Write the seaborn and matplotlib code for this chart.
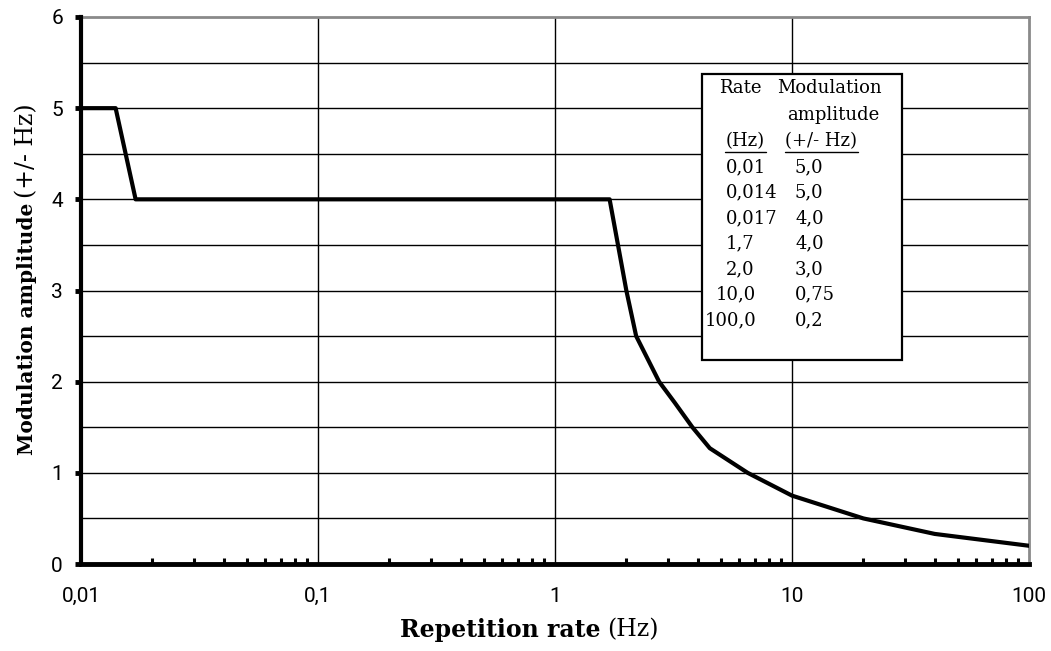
import matplotlib
matplotlib.use("Agg")
import matplotlib.pyplot as plt
import seaborn as sns
import numpy as np
from matplotlib.ticker import FixedLocator, FuncFormatter, LogLocator, NullFormatter
from matplotlib.patches import Rectangle
from matplotlib.lines import Line2D

# ---- data ----
rate_hz = [0.01, 0.014, 0.017, 1.7, 2.0, 2.2, 2.75, 3.2, 3.8, 4.5, 6.5, 10.0, 20.0, 40.0, 100.0]
amplitude_hz = [5.0, 5.0, 4.0, 4.0, 3.0, 2.5, 2.0, 1.77, 1.5, 1.27, 1.0, 0.75, 0.5, 0.33, 0.2]

table_rate = ["0,01", "0,014", "0,017", "1,7", "2,0", "10,0", "100,0"]
table_amp = ["5,0", "5,0", "4,0", "4,0", "3,0", "0,75", "0,2"]

x_ticks = [0.01, 0.1, 1, 10, 100]
x_tick_labels = ["0,01", "0,1", "1", "10", "100"]
y_ticks = [0, 1, 2, 3, 4, 5, 6]

sns.set_style("white")
plt.rcParams["text.color"] = "black"
plt.rcParams["xtick.color"] = "black"
plt.rcParams["ytick.color"] = "black"
plt.rcParams["xtick.labelcolor"] = "black"
plt.rcParams["ytick.labelcolor"] = "black"
TICK_FONT = ["Roboto", "DejaVu Sans"]
SERIF = ["DejaVu Serif"]

W, H = 1051, 651
fig = plt.figure(figsize=(W / 100, H / 100), dpi=100)
L, R, T, B = 81, 1029, 17, 564
ax = fig.add_axes([L / W, (H - B) / H, (R - L) / W, (B - T) / H])

sns.lineplot(x=rate_hz, y=amplitude_hz, ax=ax, color="black", linewidth=3.0,
             estimator=None, sort=False, zorder=5)

ax.set_xscale("log")
ax.set_xlim(0.01, 100)
ax.set_ylim(0, 6)

# grid
for yv in np.arange(0.5, 6.0, 0.5):
    ax.axhline(yv, color="black", lw=1.0, zorder=1)
for xv in [0.1, 1, 10]:
    ax.axvline(xv, color="black", lw=1.0, zorder=1)

# spines
for s in ["top", "right"]:
    ax.spines[s].set_color("#8a8a8a")
    ax.spines[s].set_linewidth(2.0)
ax.spines["left"].set_color("black")
ax.spines["left"].set_linewidth(3.0)
ax.spines["bottom"].set_color("black")
ax.spines["bottom"].set_linewidth(3.5)
ax.spines["left"].set_zorder(6)
ax.spines["bottom"].set_zorder(6)

# ticks
ax.xaxis.set_major_locator(FixedLocator(x_ticks))
ax.xaxis.set_major_formatter(FuncFormatter(lambda v, p: x_tick_labels[x_ticks.index(v)] if v in x_ticks else ""))
ax.xaxis.set_minor_locator(LogLocator(base=10, subs=np.arange(2, 10), numticks=20))
ax.xaxis.set_minor_formatter(NullFormatter())
ax.set_yticks(y_ticks)
ax.set_yticklabels([str(v) for v in y_ticks])

ax.tick_params(axis="x", which="major", direction="inout", length=7, width=3.5,
               color="black", pad=13, labelsize=15, labelcolor="black")
ax.tick_params(axis="x", which="minor", direction="in", length=4, width=2.2,
               color="black", bottom=True)
ax.tick_params(axis="y", which="major", direction="out", length=4, width=3.5,
               color="black", pad=9, labelsize=15, left=True, labelcolor="black")
for lab in ax.get_xticklabels() + ax.get_yticklabels():
    lab.set_family(TICK_FONT)

def fx(px):
    return px / W

def fy(py):
    return (H - py) / H

# axis labels (bold part + normal part)
fig.text(fx(601), fy(630), "Repetition rate", ha="right", va="center",
         family=SERIF, fontweight="bold", fontsize=17, color="black")
fig.text(fx(607), fy(630), "(Hz)", ha="left", va="center",
         family=SERIF, fontsize=17, color="black")
fig.text(fx(27), fy(455), "Modulation amplitude", ha="center", va="bottom",
         rotation=90, family=SERIF, fontweight="bold", fontsize=14.5, color="black")
fig.text(fx(27), fy(198), "(+/- Hz)", ha="center", va="bottom",
         rotation=90, family=SERIF, fontsize=17, color="black")

# legend table box
box = Rectangle((fx(702), fy(360)), fx(902) - fx(702), fy(74) - fy(360),
                transform=fig.transFigure, facecolor="white", edgecolor="black",
                lw=1.6, zorder=10)
fig.patches.append(box)

TS = 13
fig.text(fx(740), fy(88), "Rate", ha="center", va="center", family=SERIF, fontsize=TS, zorder=11)
fig.text(fx(829), fy(88), "Modulation", ha="center", va="center", family=SERIF, fontsize=TS, zorder=11)
fig.text(fx(833), fy(115), "amplitude", ha="center", va="center", family=SERIF, fontsize=TS, zorder=11)
fig.text(fx(745), fy(141), "(Hz)", ha="center", va="center", family=SERIF, fontsize=TS, zorder=11)
fig.text(fx(821), fy(141), "(+/- Hz)", ha="center", va="center", family=SERIF, fontsize=TS, zorder=11)
fig.lines.append(Line2D([fx(725), fx(766)], [fy(152), fy(152)], transform=fig.transFigure,
                        color="black", lw=1.0, zorder=11))
fig.lines.append(Line2D([fx(785), fx(858)], [fy(152), fy(152)], transform=fig.transFigure,
                        color="black", lw=1.0, zorder=11))

row0, dy = 167, 25.5
digit_w = 10.5
for i, (r, a) in enumerate(zip(table_rate, table_amp)):
    yy = fy(row0 + i * dy)
    n_int = len(r.split(",")[0])
    fig.text(fx(726 - (n_int - 1) * digit_w), yy, r, ha="left", va="center",
             family=SERIF, fontsize=TS, zorder=11)
    fig.text(fx(795), yy, a, ha="left", va="center", family=SERIF, fontsize=TS, zorder=11)

fig.savefig("out.png", dpi=100)
